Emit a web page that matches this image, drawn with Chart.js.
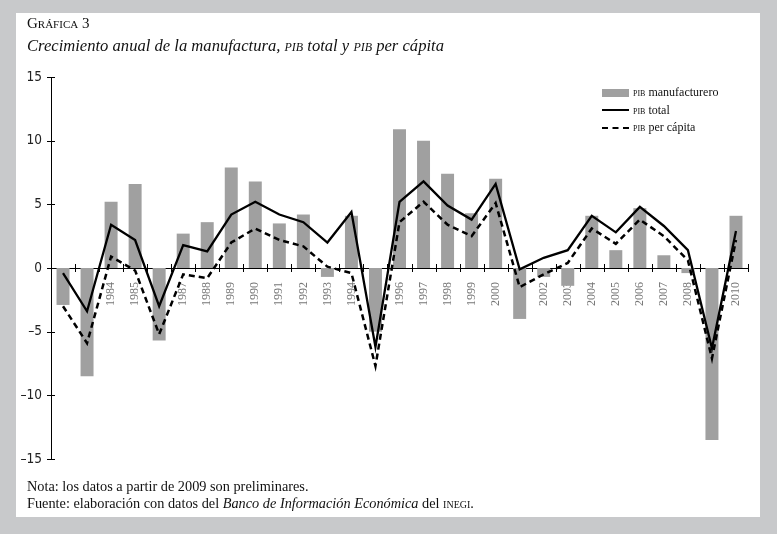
<!DOCTYPE html>
<html>
<head>
<meta charset="utf-8">
<script src="https://cdn.jsdelivr.net/npm/chart.js@4/dist/chart.umd.min.js"></script>
<style>
  html, body { margin: 0; padding: 0; }
  body { width: 777px; height: 534px; background: #c8c9cb; position: relative; overflow: hidden;
         font-family: 'Liberation Serif', 'DejaVu Serif', serif; color: #111; }
  #panel { position: absolute; left: 16px; top: 13px; width: 744px; height: 504px; background: #fff; }
  #growthChart { position: absolute; left: 0; top: 0; }
  .sc { font-variant: small-caps; }
  #title { position: absolute; left: 27px; top: 13px; font-size: 16.6px; }
  #title .head { font-size: 15px; line-height: 21px; }
  #title .sub { font-style: italic; line-height: 23px; }
  #legend { position: absolute; left: 602px; top: 84px; font-size: 12px; line-height: 17.5px; }
  #legend .row { display: flex; align-items: center; height: 17.5px; }
  #legend .sw { width: 27px; margin-right: 4px; }
  #legend .bar { height: 8px; background: #a0a0a0; }
  #legend .solid { border-top: 2.5px solid #000; }
  #legend .dash { border-top: 2.5px dashed #000; }
  #notes { position: absolute; left: 27px; top: 478px; font-size: 14.3px; line-height: 17px; }
</style>
</head>
<body>
<div id="panel"></div>
<canvas id="growthChart" width="777" height="534"></canvas>
<div id="title">
  <div class="head">G<span class="sc">ráfica</span> 3</div>
  <div class="sub">Crecimiento anual de la manufactura, <span class="sc">pib</span> total y <span class="sc">pib</span> per cápita</div>
</div>
<div id="legend">
  <div class="row"><div class="sw bar"></div><span><span class="sc">pib</span> manufacturero</span></div>
  <div class="row"><div class="sw solid"></div><span><span class="sc">pib</span> total</span></div>
  <div class="row"><div class="sw dash"></div><span><span class="sc">pib</span> per cápita</span></div>
</div>
<div id="notes">
  <div>Nota: los datos a partir de 2009 son preliminares.</div>
  <div>Fuente: elaboración con datos del <i>Banco de Información Económica</i> del <span class="sc">inegi</span>.</div>
</div>
<script>
const years = ['1982', '1983', '1984', '1985', '1986', '1987', '1988', '1989', '1990', '1991',
  '1992', '1993', '1994', '1995', '1996', '1997', '1998', '1999', '2000', '2001',
  '2002', '2003', '2004', '2005', '2006', '2007', '2008', '2009', '2010'];

// PIB manufacturero (bars)
const manufactura = [-2.9, -8.5, 5.2, 6.6, -5.7, 2.7, 3.6, 7.9, 6.8, 3.5,
  4.2, -0.7, 4.1, -5.0, 10.9, 10.0, 7.4, 4.3, 7.0, -4.0,
  -0.7, -1.4, 4.1, 1.4, 4.7, 1.0, -0.4, -13.5, 4.1];

// PIB total (solid line)
const pibTotal = [-0.4, -3.4, 3.4, 2.2, -3.0, 1.8, 1.3, 4.2, 5.2, 4.2,
  3.6, 2.0, 4.4, -6.2, 5.2, 6.8, 4.9, 3.8, 6.6, -0.1,
  0.8, 1.4, 4.1, 2.8, 4.8, 3.3, 1.4, -6.3, 2.9];

// PIB per capita (dashed line)
const pibPerCapita = [-3.0, -5.9, 0.9, -0.2, -5.2, -0.5, -0.8, 2.0, 3.1, 2.2,
  1.7, 0.1, -0.4, -7.7, 3.6, 5.2, 3.4, 2.5, 5.1, -1.5,
  -0.5, 0.4, 3.1, 1.9, 3.8, 2.5, 0.6, -7.1, 2.2];

const yTicks = [-15, -10, -5, 0, 5, 10, 15];

// Tick marks that cross both axes, as in the printed figure
const crossTicks = {
  id: 'crossTicks',
  afterDatasetsDraw(chart) {
    const { ctx, scales: { x, y } } = chart;
    const zero = y.getPixelForValue(0);
    ctx.save();
    ctx.strokeStyle = '#000';
    ctx.lineWidth = 1;
    ctx.beginPath();
    const half = (x.getPixelForValue(1) - x.getPixelForValue(0)) / 2;
    for (let i = 0; i < years.length; i++) {
      const px = Math.round(x.getPixelForValue(i) + half) + 0.5;
      ctx.moveTo(px, zero - 4);
      ctx.lineTo(px, zero + 4);
    }
    yTicks.forEach(v => {
      const py = Math.round(y.getPixelForValue(v)) + 0.5;
      ctx.moveTo(x.left - 4, py);
      ctx.lineTo(x.left + 4, py);
    });
    ctx.stroke();
    ctx.restore();
  }
};

const ctx = document.getElementById('growthChart').getContext('2d');
new Chart(ctx, {
  data: {
    labels: years,
    datasets: [
      {
        type: 'line',
        label: 'PIB total',
        data: pibTotal,
        borderColor: '#000',
        borderWidth: 2.3,
        pointRadius: 0,
        tension: 0,
        order: 1
      },
      {
        type: 'line',
        label: 'PIB per cápita',
        data: pibPerCapita,
        borderColor: '#000',
        borderWidth: 2.5,
        borderDash: [6, 4],
        pointRadius: 0,
        tension: 0,
        order: 2
      },
      {
        type: 'bar',
        label: 'PIB manufacturero',
        data: manufactura,
        backgroundColor: '#a0a0a0',
        categoryPercentage: 1,
        barPercentage: 0.54,
        order: 3
      }
    ]
  },
  options: {
    responsive: false,
    animation: false,
    devicePixelRatio: 1,
    layout: { padding: { left: 21, top: 77, right: 29, bottom: 75 } },
    plugins: {
      legend: { display: false },
      tooltip: { enabled: false }
    },
    scales: {
      x: {
        position: { y: 0 },
        grid: { display: false, drawTicks: false },
        border: { display: true, color: '#000', width: 1 },
        ticks: {
          autoSkip: false,
          minRotation: 90,
          maxRotation: 90,
          padding: 14,
          color: '#777',
          font: { family: "'Liberation Serif', serif", size: 12 }
        }
      },
      y: {
        min: -15,
        max: 15,
        afterFit: scale => { scale.width = 30; },
        grid: { display: false, drawTicks: false },
        border: { display: true, color: '#000', width: 1 },
        ticks: {
          stepSize: 5,
          padding: 9,
          color: '#222',
          font: { family: "'Liberation Sans Narrow', 'DejaVu Sans Condensed', sans-serif", size: 13.5 },
          callback: v => String(v).replace('-', '\u2013')
        }
      }
    }
  },
  plugins: [crossTicks]
});
</script>
</body>
</html>
